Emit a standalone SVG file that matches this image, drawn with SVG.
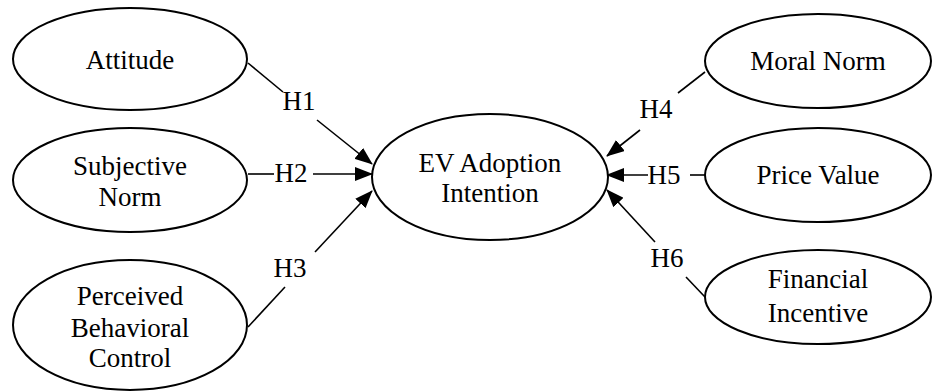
<svg xmlns="http://www.w3.org/2000/svg" width="932" height="391" viewBox="0 0 932 391">
<style>
.n ellipse{fill:#fff;stroke:#000;stroke-width:2}
text{font-family:"Liberation Serif","Times New Roman",serif;font-size:27px;fill:#000;text-anchor:middle}
.c line{stroke:#000;stroke-width:1.6;fill:none}
</style>
<defs>
<marker id="ah" markerUnits="userSpaceOnUse" markerWidth="18" markerHeight="14" refX="17" refY="7" orient="auto">
<path d="M0,0 L18,7 L0,14 Z" fill="#000"/>
</marker>
</defs>
<g class="c" id="connectors">
<line x1="248" y1="63" x2="283" y2="92"/>
<line x1="317" y1="120" x2="372" y2="164" marker-end="url(#ah)"/>
<line x1="248" y1="174" x2="274" y2="174"/>
<line x1="313" y1="174" x2="372" y2="174" marker-end="url(#ah)"/>
<line x1="248" y1="327" x2="285" y2="287"/>
<line x1="315" y1="252" x2="372" y2="191" marker-end="url(#ah)"/>
<line x1="705" y1="72" x2="678" y2="93"/>
<line x1="640" y1="130" x2="607" y2="156" marker-end="url(#ah)"/>
<line x1="705" y1="175" x2="690" y2="175"/>
<line x1="648" y1="175" x2="607" y2="175" marker-end="url(#ah)"/>
<line x1="705" y1="297" x2="686" y2="277"/>
<line x1="655" y1="242" x2="607" y2="190" marker-end="url(#ah)"/>
<text x="299" y="110">H1</text>
<text x="291" y="182">H2</text>
<text x="290" y="277">H3</text>
<text x="656" y="118">H4</text>
<text x="664" y="184">H5</text>
<text x="667" y="267">H6</text>
</g>
<g class="n" id="attitude"><ellipse cx="130" cy="59" rx="117" ry="51"/><text x="130" y="69">Attitude</text></g>
<g class="n" id="subjective-norm"><ellipse cx="130" cy="180" rx="117" ry="52"/><text x="130" y="175">Subjective</text><text x="130" y="206">Norm</text></g>
<g class="n" id="pbc"><ellipse cx="130" cy="325" rx="117" ry="65"/><text x="130" y="305">Perceived</text><text x="130" y="337">Behavioral</text><text x="130" y="367">Control</text></g>
<g class="n" id="ev"><ellipse cx="490" cy="177" rx="118" ry="63"/><text x="490" y="172">EV Adoption</text><text x="490" y="202">Intention</text></g>
<g class="n" id="moral-norm"><ellipse cx="818" cy="61" rx="113" ry="47"/><text x="818" y="70">Moral Norm</text></g>
<g class="n" id="price-value"><ellipse cx="818" cy="175" rx="113" ry="47"/><text x="818" y="184">Price Value</text></g>
<g class="n" id="financial-incentive"><ellipse cx="818" cy="297" rx="113" ry="47"/><text x="818" y="288">Financial</text><text x="818" y="322">Incentive</text></g>
</svg>
